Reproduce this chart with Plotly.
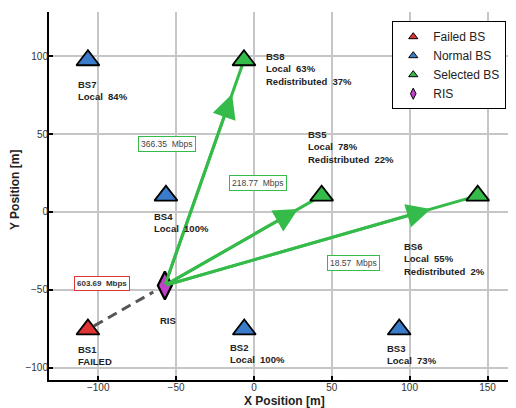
import plotly.graph_objects as go

# ---------------- data ----------------
bs_names = ["BS1", "BS2", "BS3", "BS4", "BS5", "BS6", "BS7", "BS8"]
bs_x = [-106.6, -6.2, 93.3, -56.5, 43.5, 143.7, -106.6, -6.4]
bs_y = [-75.5, -75.5, -75.5, 10.5, 10.5, 10.5, 97.5, 97.5]
bs_status = ["failed", "normal", "normal", "normal", "selected", "selected", "normal", "selected"]
bs_info = ["FAILED", "Local  100%", "Local  73%", "Local  100%",
           "Local  78%<br>Redistributed  22%",
           "Local  55%<br>Redistributed  2%",
           "Local  84%",
           "Local  63%<br>Redistributed  37%"]
label_x = [-113.7, -16.0, 84.8, -64.9, 34.0, 95.7, -113.7, 7.1]
label_y = [-84.0, -83.0, -83.6, 1.3, 54.0, -18.0, 86.0, 104.0]

ris_x, ris_y = -57.2, -47.2

link_targets = ["BS8", "BS5", "BS6"]
link_rates = [366.35, 218.77, 18.57]
rate_box_x = [-56.0, 2.6, 64.0]
rate_box_y = [43.4, 18.3, -33.0]

failed_rate = 603.69
failed_box_x, failed_box_y = -97.3, -46.3

x_ticks = [-100, -50, 0, 50, 100, 150]
y_ticks = [-100, -50, 0, 50, 100]

# ---------------- style ----------------
COL = {"failed": "#e03535", "normal": "#3a7cc9", "selected": "#35bb4a"}
RIS_COL = "#c040c8"
GREEN = "#35bb4a"
DASH_GRAY = "#555555"
FONT = "Liberation Sans, Arial, Helvetica, sans-serif"
ARROW_FRAC = 0.85
DASH_START, DASH_END = 0.08, 0.91

fig = go.Figure()

# Selected links RIS -> BS (lines)
pos = {n: (x, y) for n, x, y in zip(bs_names, bs_x, bs_y)}
for t in link_targets:
    tx, ty = pos[t]
    fig.add_trace(go.Scatter(x=[ris_x, tx], y=[ris_y, ty], mode="lines",
                             line=dict(color=GREEN, width=3), showlegend=False,
                             hoverinfo="skip"))
    hx = ris_x + ARROW_FRAC * (tx - ris_x)
    hy = ris_y + ARROW_FRAC * (ty - ris_y)
    fig.add_annotation(x=hx, y=hy, ax=ris_x, ay=ris_y, xref="x", yref="y",
                       axref="x", ayref="y", text="", showarrow=True,
                       arrowhead=2, arrowsize=1.6, arrowwidth=3, arrowcolor=GREEN)

# Failed BS -> RIS dashed link
fx, fy = pos["BS1"]
sx = fx + DASH_START * (ris_x - fx)
sy = fy + DASH_START * (ris_y - fy)
ex = fx + DASH_END * (ris_x - fx)
ey = fy + DASH_END * (ris_y - fy)
mx = fx + (DASH_END - 0.06) * (ris_x - fx)
my = fy + (DASH_END - 0.06) * (ris_y - fy)
fig.add_trace(go.Scatter(x=[sx, mx], y=[sy, my], mode="lines",
                         line=dict(color=DASH_GRAY, width=3, dash="10px,6px"),
                         showlegend=False, hoverinfo="skip"))
fig.add_annotation(x=ex, y=ey, ax=mx, ay=my, xref="x", yref="y", axref="x", ayref="y",
                   text="", showarrow=True, arrowhead=2, arrowsize=1.4,
                   arrowwidth=3, arrowcolor=DASH_GRAY)

# Base stations
for status in ["failed", "normal", "selected"]:
    xs = [x for x, s in zip(bs_x, bs_status) if s == status]
    ys = [y for y, s in zip(bs_y, bs_status) if s == status]
    fig.add_trace(go.Scatter(x=xs, y=ys, mode="markers", showlegend=False,
                             marker=dict(symbol="triangle-up", size=20, color=COL[status],
                                         line=dict(color="black", width=1.8))))

# RIS
fig.add_trace(go.Scatter(x=[ris_x], y=[ris_y], mode="markers", showlegend=False,
                         marker=dict(symbol="diamond-tall", size=20, color=RIS_COL,
                                     line=dict(color="black", width=2.2))))

# legend-only entries
leg = [("Failed BS", "triangle-up", COL["failed"]),
       ("Normal BS", "triangle-up", COL["normal"]),
       ("Selected BS", "triangle-up", COL["selected"]),
       ("RIS", "diamond-tall", RIS_COL)]
for name, sym, c in leg:
    fig.add_trace(go.Scatter(x=[None], y=[None], mode="markers", name=name,
                             marker=dict(symbol=sym, size=8, color=c,
                                         line=dict(color="black", width=1))))

# BS labels
for n, info, lx, ly in zip(bs_names, bs_info, label_x, label_y):
    fig.add_annotation(x=lx, y=ly, xref="x", yref="y", text=f"<b>{n}<br>{info}</b>",
                       showarrow=False, xanchor="left", yanchor="top", align="left",
                       font=dict(family=FONT, size=9.5, color="#222222"), borderpad=0)

fig.add_annotation(x=-55.2, y=-70.0, xref="x", yref="y", text="<b>RIS</b>",
                   showarrow=False, font=dict(family=FONT, size=9.5, color="#222222"))

# rate boxes
for r, bx, by in zip(link_rates, rate_box_x, rate_box_y):
    fig.add_annotation(x=bx, y=by, xref="x", yref="y", text=f"{r:.2f}  Mbps",
                       showarrow=False, bgcolor="white", bordercolor=GREEN,
                       borderwidth=1, borderpad=2,
                       font=dict(family=FONT, size=8.5, color="#444444"))
fig.add_annotation(x=failed_box_x, y=failed_box_y, xref="x", yref="y",
                   text=f"<b>{failed_rate:.2f}  Mbps</b>", showarrow=False,
                   bgcolor="white", bordercolor="#e03535", borderwidth=1, borderpad=2,
                   font=dict(family=FONT, size=8, color="#333333"))

# axis titles
fig.add_annotation(x=0.505, y=-0.057, xref="paper", yref="paper",
                   text="<b>X Position [m]</b>", showarrow=False,
                   xanchor="center", yanchor="middle",
                   font=dict(family=FONT, size=12, color="#222222"))
fig.add_annotation(x=-0.073, y=0.516, xref="paper", yref="paper",
                   text="<b>Y Position [m]</b>", showarrow=False, textangle=-90,
                   xanchor="center", yanchor="middle",
                   font=dict(family=FONT, size=12, color="#222222"))

# page body has an 8px margin, so the figure is 8px smaller and offset
fig.update_layout(
    width=508, height=400,
    margin=dict(l=41, r=0, t=4, b=28, autoexpand=False),
    paper_bgcolor="white", plot_bgcolor="white",
    font=dict(family=FONT),
    legend=dict(x=0.735, y=0.975, xanchor="left", yanchor="top",
                bgcolor="white", bordercolor="black", borderwidth=1,
                font=dict(family=FONT, size=12, color="#222222"),
                itemwidth=30, tracegroupgap=0),
)
fig.update_xaxes(range=[-131.6, 168.3], tickvals=x_ticks, showgrid=True,
                 automargin=False, ticklabelstandoff=-3,
                 gridcolor="#c6c6c6", gridwidth=2, zeroline=False,
                 showline=True, linecolor="black", linewidth=2,
                 ticks="inside", ticklen=4, tickwidth=2, tickcolor="black",
                 tickfont=dict(family=FONT, size=10, color="#333333"))
fig.update_yaxes(range=[-108, 128.5], tickvals=y_ticks, showgrid=True,
                 automargin=False, ticklabelstandoff=-3,
                 gridcolor="#c6c6c6", gridwidth=2, zeroline=False,
                 showline=True, linecolor="black", linewidth=2,
                 ticks="inside", ticklen=4, tickwidth=2, tickcolor="black",
                 tickfont=dict(family=FONT, size=10, color="#333333"))

fig.write_html("out.html")
